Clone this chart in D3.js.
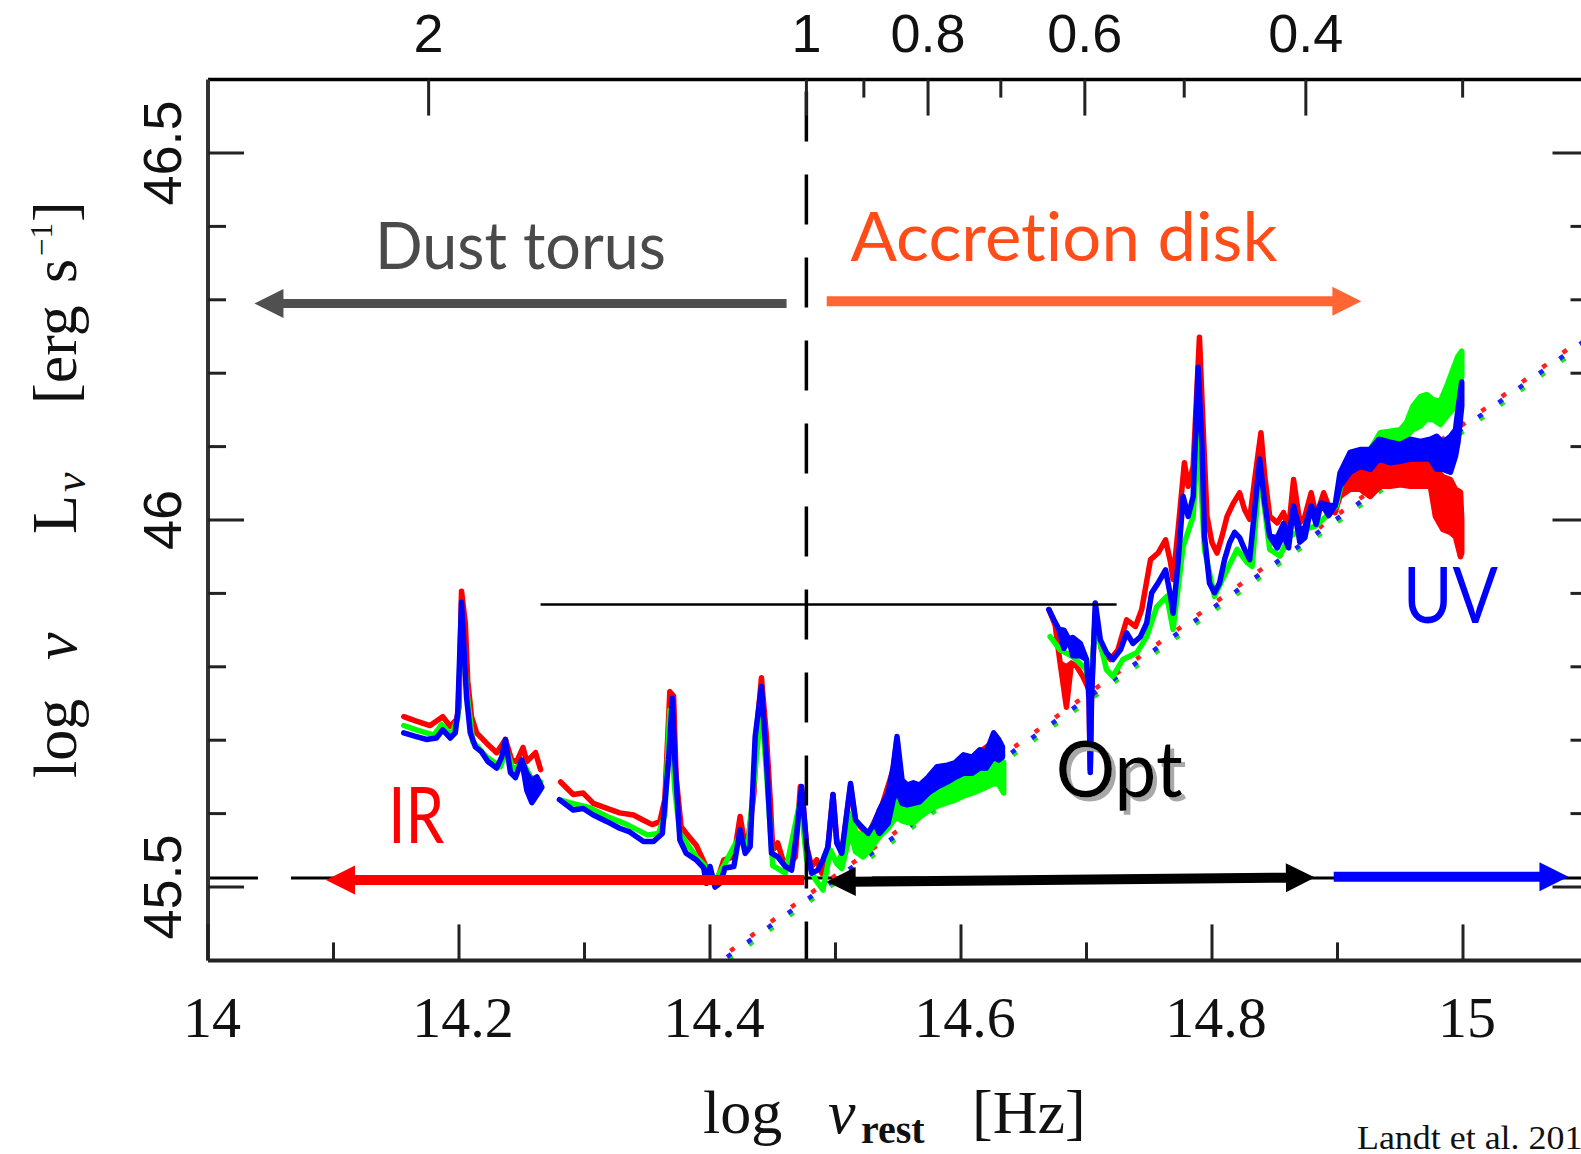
<!DOCTYPE html>
<html><head><meta charset="utf-8">
<script src="https://cdn.jsdelivr.net/npm/d3@7"></script>
<style>body{margin:0;background:#fff}svg{display:block}text{font-variant-ligatures:none}</style>
</head><body>
<svg id="c" width="1581" height="1154"></svg>
<script>
// ---------------- DATA ----------------
const xMajorTicks = [14, 14.2, 14.4, 14.6, 14.8, 15];
const xMajorLabels = ["14", "14.2", "14.4", "14.6", "14.8", "15"];
const xMinorTicks = [14.1, 14.3, 14.5, 14.7, 14.9];
const yMajorTicks = [45.5, 46, 46.5];
const yMajorLabels = ["45.5", "46", "46.5"];
const yMinorTicks = [45.6, 45.7, 45.8, 45.9, 46.1, 46.2, 46.3, 46.4];
const topMajorLambda = [2, 1, 0.8, 0.6, 0.4];
const topMajorLabels = ["2", "1", "0.8", "0.6", "0.4"];
const topMinorLambda = [0.9, 0.7, 0.5, 0.3];

// spectra: [log nu, log nuLnu] or [log nu, low, high]
const redIR1 = [[14.156,45.732],[14.166,45.726],[14.177,45.720],[14.187,45.732],[14.193,45.719],[14.198,45.728],[14.200,45.745],[14.202,45.903],[14.205,45.860],[14.207,45.780],[14.210,45.732],[14.214,45.710],[14.222,45.696],[14.230,45.683],[14.237,45.701],[14.242,45.673],[14.246,45.671],[14.251,45.690],[14.254,45.671],[14.261,45.683],[14.265,45.660]];
const greenIR1 = [[14.156,45.720],[14.166,45.714],[14.180,45.707],[14.186,45.721],[14.194,45.707],[14.199,45.730],[14.202,45.864],[14.206,45.770],[14.211,45.698],[14.222,45.677],[14.233,45.664],[14.238,45.687],[14.243,45.660],[14.251,45.669],[14.257,45.650],[14.265,45.643]];
const blueIR1 = [[14.156,45.710],[14.166,45.705],[14.174,45.701],[14.182,45.703],[14.187,45.714],[14.193,45.703],[14.197,45.710],[14.199,45.737],[14.202,45.888],[14.206,45.759],[14.209,45.710],[14.213,45.691],[14.218,45.684],[14.223,45.671],[14.230,45.662],[14.234,45.677],[14.237,45.701],[14.241,45.656],[14.245,45.649],[14.250,45.673],[14.254,45.632,45.655],[14.258,45.615,45.645],[14.262,45.625,45.650],[14.266,45.636]];

const redIR2 = [[14.281,45.643],[14.291,45.626],[14.299,45.628],[14.307,45.614],[14.318,45.607],[14.328,45.601],[14.339,45.598],[14.347,45.591],[14.354,45.585],[14.360,45.589],[14.364,45.619],[14.368,45.766],[14.371,45.760],[14.373,45.650],[14.377,45.582],[14.383,45.569],[14.389,45.557],[14.395,45.535],[14.400,45.515],[14.405,45.505],[14.411,45.537],[14.419,45.541],[14.424,45.596],[14.428,45.555],[14.431,45.573],[14.435,45.628],[14.437,45.710],[14.441,45.785],[14.445,45.705],[14.448,45.619],[14.450,45.550],[14.454,45.560],[14.458,45.537],[14.464,45.532],[14.468,45.541],[14.472,45.637],[14.474,45.619],[14.477,45.555],[14.481,45.528],[14.485,45.537],[14.489,45.519],[14.493,45.537],[14.498,45.626],[14.501,45.564],[14.505,45.546],[14.512,45.638],[14.516,45.589],[14.526,45.571],[14.537,45.611],[14.546,45.660],[14.549,45.701],[14.553,45.635],[14.562,45.626],[14.574,45.630],[14.581,45.653],[14.595,45.651],[14.609,45.666],[14.615,45.684],[14.626,45.698],[14.633,45.680]];
const greenIR2 = [[14.282,45.618],[14.288,45.615],[14.304,45.608],[14.318,45.596],[14.334,45.585],[14.350,45.571],[14.359,45.573],[14.364,45.598],[14.368,45.741],[14.372,45.632],[14.376,45.573],[14.389,45.541],[14.396,45.529],[14.403,45.505],[14.411,45.529],[14.424,45.571],[14.430,45.550],[14.436,45.660],[14.441,45.748],[14.446,45.632],[14.450,45.529],[14.460,45.519],[14.472,45.619],[14.477,45.537],[14.484,45.510],[14.490,45.496],[14.496,45.550],[14.501,45.532],[14.505,45.525,45.545],[14.512,45.575,45.600],[14.516,45.548,45.575],[14.522,45.541,45.570],[14.528,45.552,45.578],[14.535,45.569,45.598],[14.542,45.580,45.615],[14.546,45.590,45.640],[14.549,45.596,45.680],[14.553,45.590,45.625],[14.557,45.588,45.612],[14.562,45.587,45.615],[14.567,45.595,45.612],[14.575,45.605,45.625],[14.581,45.610,45.640],[14.589,45.615,45.645],[14.595,45.618,45.648],[14.602,45.624,45.655],[14.609,45.628,45.655],[14.615,45.632,45.664],[14.620,45.636,45.660],[14.626,45.641,45.690],[14.630,45.640,45.675],[14.634,45.628,45.670]];
const blueIR2 = [[14.280,45.619],[14.291,45.605],[14.299,45.607],[14.307,45.598],[14.318,45.589],[14.328,45.580],[14.336,45.575],[14.347,45.562],[14.355,45.562],[14.362,45.573],[14.367,45.673],[14.370,45.757],[14.372,45.673],[14.376,45.564],[14.381,45.546],[14.389,45.537],[14.395,45.526],[14.397,45.505],[14.400,45.528],[14.404,45.500],[14.408,45.505],[14.412,45.526],[14.419,45.528],[14.424,45.578],[14.428,45.546],[14.432,45.555],[14.436,45.705],[14.441,45.773],[14.445,45.673],[14.449,45.546],[14.454,45.541],[14.460,45.528],[14.465,45.523],[14.469,45.573],[14.473,45.637],[14.477,45.555],[14.481,45.519],[14.486,45.523],[14.490,45.537],[14.494,45.555],[14.498,45.626],[14.501,45.560],[14.505,45.546],[14.508,45.587],[14.512,45.641],[14.516,45.591],[14.521,45.582],[14.526,45.573],[14.531,45.587],[14.535,45.573,45.605],[14.542,45.587,45.628],[14.546,45.619,45.664],[14.549,45.632,45.705],[14.553,45.614,45.646],[14.557,45.612,45.639],[14.562,45.614,45.642],[14.567,45.616,45.639],[14.574,45.628,45.650],[14.581,45.636,45.664],[14.589,45.643,45.666],[14.595,45.649,45.669],[14.602,45.655,45.680],[14.609,45.655,45.677],[14.615,45.662,45.687],[14.620,45.662,45.683],[14.626,45.677,45.710],[14.630,45.673,45.701],[14.633,45.677,45.691]];

const redOpt = [[14.670,45.878],[14.675,45.857],[14.679,45.805],[14.684,45.745,45.800],[14.688,45.805],[14.692,45.801],[14.697,45.787],[14.702,45.769],[14.703,45.660],[14.704,45.769],[14.707,45.873],[14.712,45.823],[14.719,45.810],[14.725,45.823],[14.732,45.864],[14.739,45.855],[14.744,45.878],[14.751,45.946],[14.757,45.955],[14.763,45.973],[14.767,45.942],[14.769,45.919],[14.773,45.987],[14.778,46.078],[14.781,46.046],[14.785,46.073],[14.790,46.249],[14.793,46.123],[14.796,46.005],[14.800,45.969],[14.804,45.955],[14.808,45.978],[14.812,46.005],[14.817,46.023],[14.822,46.037],[14.826,46.014],[14.830,46.001],[14.834,46.055],[14.839,46.119],[14.842,46.060],[14.846,46.005],[14.852,45.996],[14.857,46.010],[14.861,45.987],[14.865,46.055],[14.870,45.996],[14.874,46.005],[14.879,46.037],[14.883,46.005],[14.889,46.037],[14.894,46.014],[14.898,46.010],[14.902,46.032,46.052],[14.910,46.042,46.078],[14.918,46.042,46.076],[14.926,46.032,46.073],[14.934,46.046,46.087],[14.942,46.046,46.083],[14.950,46.048,46.080],[14.958,46.046,46.080],[14.966,46.046,46.087],[14.974,46.046,46.078],[14.978,46.005,46.069],[14.984,45.987,46.059],[14.990,45.983,46.055],[14.994,45.977,46.042],[14.998,45.950,46.038],[14.999,45.955,46.000]];
const greenOpt = [[14.671,45.841],[14.679,45.823],[14.689,45.814],[14.700,45.796],[14.703,45.760],[14.707,45.860],[14.716,45.796],[14.721,45.787],[14.729,45.810],[14.740,45.819],[14.748,45.841],[14.756,45.882],[14.764,45.896],[14.769,45.851],[14.777,45.964],[14.785,46.005],[14.789,46.123],[14.794,45.960],[14.802,45.896],[14.812,45.932],[14.820,45.960],[14.828,45.942],[14.832,45.937],[14.838,46.069],[14.846,45.960],[14.854,45.951],[14.862,45.978],[14.873,45.987],[14.883,45.992],[14.891,46.005],[14.899,46.019],[14.905,46.064],[14.915,46.078],[14.923,46.087],[14.934,46.100,46.119],[14.942,46.103,46.121],[14.950,46.103,46.123],[14.955,46.114,46.133],[14.960,46.123,46.155],[14.966,46.128,46.168],[14.971,46.137,46.171],[14.976,46.137,46.164],[14.982,46.130,46.162],[14.987,46.141,46.182],[14.992,46.151,46.205],[14.996,46.168,46.223],[14.999,46.196,46.230]];
const blueOpt = [[14.670,45.878],[14.674,45.864],[14.678,45.851],[14.682,45.825,45.850],[14.686,45.837],[14.689,45.815,45.840],[14.695,45.815,45.832],[14.700,45.810],[14.702,45.755],[14.703,45.656],[14.704,45.755],[14.707,45.887],[14.711,45.837],[14.716,45.819],[14.721,45.810],[14.727,45.823],[14.732,45.846],[14.737,45.832],[14.743,45.841],[14.748,45.860],[14.752,45.901],[14.757,45.914],[14.763,45.932],[14.767,45.896],[14.769,45.873],[14.773,45.942],[14.777,46.032],[14.781,46.005],[14.785,46.032],[14.789,46.208],[14.792,46.101],[14.794,45.978],[14.798,45.914],[14.802,45.901],[14.806,45.914],[14.810,45.946],[14.814,45.969],[14.818,45.983],[14.822,45.976],[14.826,45.960],[14.830,45.946],[14.834,46.014],[14.838,46.083],[14.842,46.023],[14.846,45.978],[14.852,45.962,45.976],[14.857,45.980,45.995],[14.861,45.962,45.976],[14.865,46.019],[14.870,45.970,45.986],[14.874,45.976,45.990],[14.879,46.019],[14.883,45.994,46.008],[14.887,46.023],[14.893,46.006,46.020],[14.898,46.019],[14.902,46.046,46.064],[14.910,46.065,46.092],[14.918,46.073,46.096],[14.926,46.069,46.096],[14.933,46.083,46.110],[14.942,46.078,46.106],[14.950,46.080,46.103],[14.958,46.083,46.110],[14.966,46.083,46.107],[14.974,46.083,46.110],[14.979,46.069,46.114],[14.984,46.069,46.106],[14.990,46.065,46.114],[14.994,46.087,46.123],[14.996,46.106,46.151],[14.999,46.155,46.188]];

// accretion-disk model (dotted), endpoints
const modelRed = [[14.400,45.393],[15.100,46.253]];
const modelGreen = [[14.400,45.383],[15.100,46.243]];
const modelBlue = [[14.400,45.388],[15.100,46.248]];

// annotations (data coordinates)
const boundaryNu = 14.4768;       // 1 micron
const dashedLevel = 45.5123;
const thinLine = [[14.265, 45.885], [14.724, 45.885]];
const arrows = [
  {from: [14.461, 46.295], to: [14.037, 46.295], color: "#505050", both: false, w: 9},
  {from: [14.493, 46.298], to: [14.919, 46.298], color: "#ff6633", both: false, w: 10},
  {from: [14.475, 45.5095], to: [14.094, 45.5095], color: "#ff0000", both: false, w: 10},
  {from: [14.493, 45.507], to: [14.882, 45.513], color: "#000000", both: true, w: 10},
  {from: [14.897, 45.514], to: [15.084, 45.514], color: "#0000ff", both: false, w: 10}
];
const labels = [
  {text: "Dust torus", at: [14.249, 46.342], color: "#4a4a4a", size: 65, len: 291},
  {text: "Accretion disk", at: [14.682, 46.353], color: "#ff4d1a", size: 67, len: 427},
  {text: "IR", at: [14.166, 45.560], color: "#ff0000", size: 78, len: 56},
  {text: "UV", at: [14.990, 45.860], color: "#0000ff", size: 77, len: 95}
];
const optLabel = {text: "Opt", at: [14.726, 45.623], size: 78, len: 127};

// ---------------- DRAW ----------------
const svg = d3.select("#c");
const x = d3.scaleLinear().domain([14, 15]).range([208, 1463]);
const y = d3.scaleLinear().domain([45.5, 46.5]).range([887, 153]);
const X0 = x(14), X1 = x(15.1), Y0 = y(45.4), Y1 = y(46.6);
const C_MICRON = 2.998e14;
const lamX = l => x(Math.log10(C_MICRON / l));

const defs = svg.append("defs");
defs.append("clipPath").attr("id", "clip")
  .append("rect").attr("x", X0).attr("y", Y1).attr("width", X1 - X0).attr("height", Y0 - Y1);
defs.append("filter").attr("id", "shadow").attr("x", "-10%").attr("y", "-10%").attr("width", "130%").attr("height", "130%")
  .append("feDropShadow").attr("dx", 4).attr("dy", 4).attr("stdDeviation", 0.6)
  .attr("flood-color", "#a8a8a8").attr("flood-opacity", 1);

const plot = svg.append("g").attr("clip-path", "url(#clip)");

// dashed horizontal line
plot.append("line").attr("x1", X0).attr("x2", X1).attr("y1", y(dashedLevel)).attr("y2", y(dashedLevel))
  .attr("stroke", "#000").attr("stroke-width", 3).attr("stroke-dasharray", "50,33");

// dotted model lines
const lineGen = d3.line().x(d => x(d[0])).y(d => y(d[1]));
[[modelRed, "#ff2020"], [modelGreen, "#20e020"], [modelBlue, "#2020ff"]].forEach(([d, c], i) => {
  plot.append("path").attr("d", lineGen(d)).attr("fill", "none").attr("stroke", c)
    .attr("stroke-width", 4.5).attr("stroke-dasharray", "5,20").attr("stroke-dashoffset", i * 2);
});

// spectra
const area = d3.area().x(d => x(d[0])).y0(d => y(d[1])).y1(d => y(d.length > 2 ? d[2] : d[1]));
function spec(data, color) {
  plot.append("path").attr("d", area(data)).attr("fill", color).attr("stroke", color)
    .attr("stroke-width", 5.5).attr("stroke-linejoin", "round");
}
[redIR1, redIR2, redOpt].forEach(d => spec(d, "#ff0000"));
[greenIR1, greenIR2, greenOpt].forEach(d => spec(d, "#00ff00"));
[blueIR1, blueIR2, blueOpt].forEach(d => spec(d, "#0000ff"));

// thin horizontal line
svg.append("line").attr("x1", x(thinLine[0][0])).attr("x2", x(thinLine[1][0]))
  .attr("y1", y(thinLine[0][1])).attr("y2", y(thinLine[1][1])).attr("stroke", "#000").attr("stroke-width", 2.5);

// vertical dashed line at 1 micron
svg.append("line").attr("x1", x(boundaryNu)).attr("x2", x(boundaryNu)).attr("y1", Y1).attr("y2", Y0)
  .attr("stroke", "#000").attr("stroke-width", 3.5).attr("stroke-dasharray", "50,33").attr("stroke-dashoffset", 71);

// arrows
function drawArrow(a) {
  const p1 = [x(a.from[0]), y(a.from[1])], p2 = [x(a.to[0]), y(a.to[1])];
  const dx = p2[0] - p1[0], dy = p2[1] - p1[1], L = Math.hypot(dx, dy);
  const ux = dx / L, uy = dy / L, nx = -uy, ny = ux, hl = 29, hw = 29;
  const s = a.both ? [p1[0] + ux * hl * 0.9, p1[1] + uy * hl * 0.9] : p1;
  const e = [p2[0] - ux * hl * 0.9, p2[1] - uy * hl * 0.9];
  svg.append("line").attr("x1", s[0]).attr("y1", s[1]).attr("x2", e[0]).attr("y2", e[1])
    .attr("stroke", a.color).attr("stroke-width", a.w);
  const head = (tip, ux_, uy_) => {
    const b = [tip[0] - ux_ * hl, tip[1] - uy_ * hl];
    return [tip, [b[0] + nx * hw / 2, b[1] + ny * hw / 2], [b[0] - nx * hw / 2, b[1] - ny * hw / 2]];
  };
  svg.append("polygon").attr("points", head(p2, ux, uy).map(p => p.join(",")).join(" ")).attr("fill", a.color);
  if (a.both) svg.append("polygon").attr("points", head(p1, -ux, -uy).map(p => p.join(",")).join(" ")).attr("fill", a.color);
}
arrows.forEach(drawArrow);

// annotation labels
const annoFont = "Lato, 'Open Sans', sans-serif";
labels.forEach(l => {
  svg.append("text").attr("x", x(l.at[0])).attr("y", y(l.at[1])).attr("text-anchor", "middle")
    .attr("font-family", annoFont).attr("font-size", l.size).attr("fill", l.color)
    .attr("textLength", l.len).attr("lengthAdjust", "spacingAndGlyphs").text(l.text);
});
svg.append("text").attr("x", x(optLabel.at[0])).attr("y", y(optLabel.at[1])).attr("text-anchor", "middle")
  .attr("font-family", annoFont).attr("font-size", optLabel.size).attr("fill", "#000")
  .attr("filter", "url(#shadow)")
  .attr("textLength", optLabel.len).attr("lengthAdjust", "spacingAndGlyphs").text(optLabel.text);

// frame
svg.append("line").attr("x1", X0).attr("x2", X1).attr("y1", Y1).attr("y2", Y1).attr("stroke", "#000").attr("stroke-width", 3.5);
svg.append("line").attr("x1", X0).attr("x2", X1).attr("y1", Y0).attr("y2", Y0).attr("stroke", "#222").attr("stroke-width", 4);
svg.append("line").attr("x1", X0).attr("x2", X0).attr("y1", Y1).attr("y2", Y0).attr("stroke", "#333").attr("stroke-width", 4);
svg.append("line").attr("x1", X1).attr("x2", X1).attr("y1", Y1).attr("y2", Y0).attr("stroke", "#333").attr("stroke-width", 4);

const tickG = svg.append("g").attr("stroke", "#222").attr("stroke-width", 3);
const MAJ = 36, MIN = 18;
xMajorTicks.forEach(v => tickG.append("line").attr("x1", x(v)).attr("x2", x(v)).attr("y1", Y0).attr("y2", Y0 - MAJ));
xMinorTicks.forEach(v => tickG.append("line").attr("x1", x(v)).attr("x2", x(v)).attr("y1", Y0).attr("y2", Y0 - MIN));
topMajorLambda.forEach(v => tickG.append("line").attr("x1", lamX(v)).attr("x2", lamX(v)).attr("y1", Y1).attr("y2", Y1 + MAJ));
topMinorLambda.forEach(v => tickG.append("line").attr("x1", lamX(v)).attr("x2", lamX(v)).attr("y1", Y1).attr("y2", Y1 + MIN));
yMajorTicks.forEach(v => {
  tickG.append("line").attr("x1", X0).attr("x2", X0 + MAJ).attr("y1", y(v)).attr("y2", y(v));
  tickG.append("line").attr("x1", X1).attr("x2", X1 - MAJ).attr("y1", y(v)).attr("y2", y(v));
});
yMinorTicks.forEach(v => {
  tickG.append("line").attr("x1", X0).attr("x2", X0 + MIN).attr("y1", y(v)).attr("y2", y(v));
  tickG.append("line").attr("x1", X1).attr("x2", X1 - MIN).attr("y1", y(v)).attr("y2", y(v));
});

// tick labels
const serif = "'Liberation Serif', 'DejaVu Serif', serif";
const sans = "'Liberation Sans', Arial, sans-serif";
xMajorTicks.forEach((v, i) => svg.append("text").attr("x", x(v) + 4).attr("y", 1037).attr("text-anchor", "middle")
  .attr("font-family", serif).attr("font-size", 58).attr("fill", "#111").text(xMajorLabels[i]));
topMajorLambda.forEach((v, i) => svg.append("text").attr("x", lamX(v)).attr("y", 52).attr("text-anchor", "middle")
  .attr("font-family", sans).attr("font-size", 54).attr("fill", "#111").text(topMajorLabels[i]));
yMajorTicks.forEach((v, i) => svg.append("text").attr("transform", `translate(181,${y(v)}) rotate(-90)`)
  .attr("text-anchor", "middle").attr("font-family", sans).attr("font-size", 54).attr("fill", "#111").text(yMajorLabels[i]));

// x-axis title
const xt = svg.append("g").attr("font-family", serif).attr("fill", "#111");
xt.append("text").attr("x", 703).attr("y", 1133).attr("font-size", 62).text("log");
xt.append("text").attr("x", 828).attr("y", 1133).attr("font-size", 62).attr("font-style", "italic").text("ν");
xt.append("text").attr("x", 861).attr("y", 1143).attr("font-size", 40).attr("font-weight", "bold").text("rest");
xt.append("text").attr("x", 972).attr("y", 1133).attr("font-size", 62).text("[Hz]");

// y-axis title (rotated; local x = -global y)
const yt = svg.append("g").attr("transform", "translate(76,0) rotate(-90)").attr("font-family", serif).attr("fill", "#111");
yt.append("text").attr("x", -778).attr("y", 0).attr("font-size", 62).text("log");
yt.append("text").attr("x", -660).attr("y", 0).attr("font-size", 62).attr("font-style", "italic").text("ν");
yt.append("text").attr("x", -534).attr("y", 0).attr("font-size", 64).text("L");
yt.append("text").attr("x", -492).attr("y", 9).attr("font-size", 44).attr("font-style", "italic").text("ν");
yt.append("text").attr("x", -404).attr("y", 0).attr("font-size", 62).text("[erg");
yt.append("text").attr("x", -283).attr("y", 0).attr("font-size", 62).text("s");
yt.append("text").attr("x", -256).attr("y", -24).attr("font-size", 31).text("−1");
yt.append("text").attr("x", -222).attr("y", 0).attr("font-size", 62).text("]");

// credit (cut at the right edge, as in the source figure)
svg.append("text").attr("x", 1357).attr("y", 1149).attr("font-family", serif).attr("font-size", 34)
  .attr("fill", "#111").attr("textLength", 242).attr("lengthAdjust", "spacingAndGlyphs").text("Landt et al. 2011");
</script>
</body></html>
